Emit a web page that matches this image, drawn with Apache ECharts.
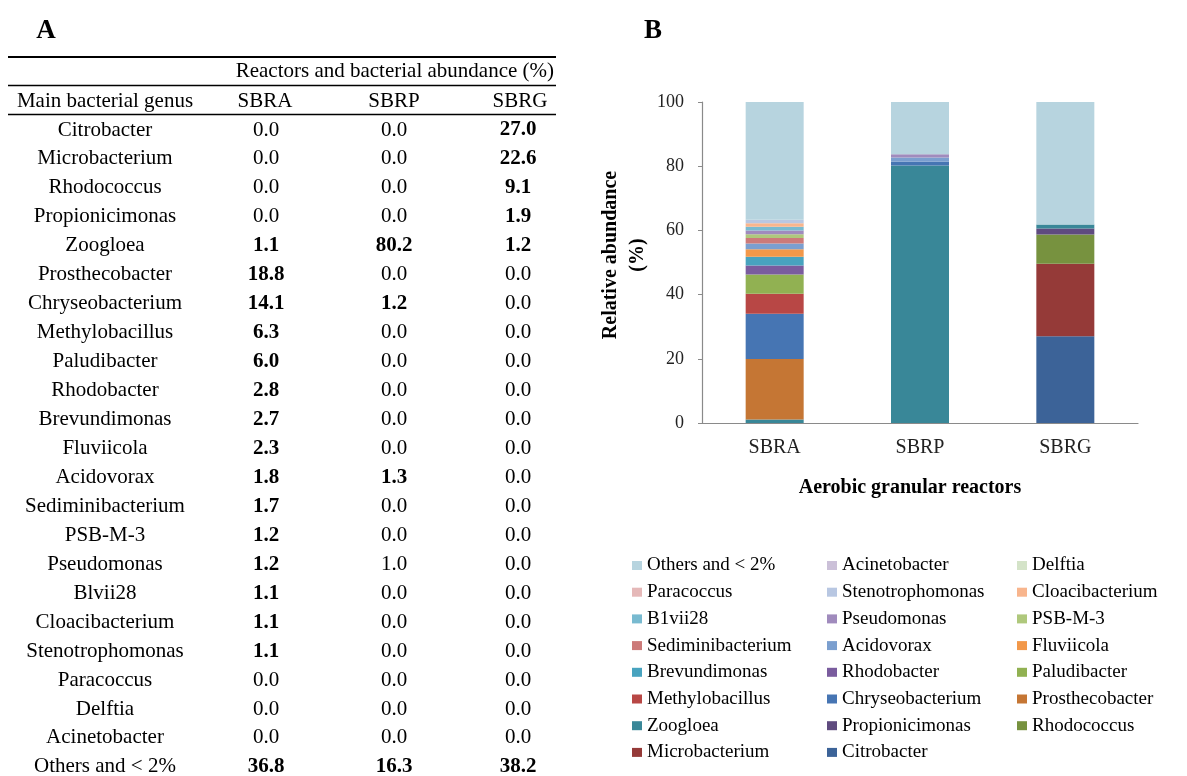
<!DOCTYPE html>
<html>
<head>
<meta charset="utf-8">
<script src="https://cdn.jsdelivr.net/npm/echarts@6/dist/echarts.min.js"></script>
<style>
html,body{margin:0;padding:0;background:#fff;}
#chart{width:1187px;height:776px;}
</style>
</head>
<body>
<div id="chart"></div>
<script>
// ---------- data ----------
const genera = ['Citrobacter','Microbacterium','Rhodococcus','Propionicimonas','Zoogloea','Prosthecobacter','Chryseobacterium','Methylobacillus','Paludibacter','Rhodobacter','Brevundimonas','Fluviicola','Acidovorax','Sediminibacterium','PSB-M-3','Pseudomonas','Blvii28','Cloacibacterium','Stenotrophomonas','Paracoccus','Delftia','Acinetobacter','Others and < 2%'];
const legendNames = ['Citrobacter','Microbacterium','Rhodococcus','Propionicimonas','Zoogloea','Prosthecobacter','Chryseobacterium','Methylobacillus','Paludibacter','Rhodobacter','Brevundimonas','Fluviicola','Acidovorax','Sediminibacterium','PSB-M-3','Pseudomonas','B1vii28','Cloacibacterium','Stenotrophomonas','Paracoccus','Delftia','Acinetobacter','Others and < 2%'];
const sbra = [0.0,0.0,0.0,0.0,1.1,18.8,14.1,6.3,6.0,2.8,2.7,2.3,1.8,1.7,1.2,1.2,1.1,1.1,1.1,0.0,0.0,0.0,36.8];
const sbrp = [0.0,0.0,0.0,0.0,80.2,0.0,1.2,0.0,0.0,0.0,0.0,0.0,1.3,0.0,0.0,1.0,0.0,0.0,0.0,0.0,0.0,0.0,16.3];
const sbrg = [27.0,22.6,9.1,1.9,1.2,0.0,0.0,0.0,0.0,0.0,0.0,0.0,0.0,0.0,0.0,0.0,0.0,0.0,0.0,0.0,0.0,0.0,38.2];
const reactors = ['SBRA','SBRP','SBRG'];
const tableTitle = 'Reactors and bacterial abundance (%)';
const genusHeader = 'Main bacterial genus';
const colors = ['#3c6398','#953a38','#77923f','#5f4b7f','#398798','#c57634','#4675b3','#b84745','#91b152','#7a5c9e','#48a3bf','#f2984a','#7b9fcf','#cc7a79','#afc87c','#a08bbd','#78bad0','#f8b58d','#b8c7e2','#e5b8b8','#d4e3c8','#cbc0d8','#b7d4df'];

// ---------- layout ----------
const FONT = "'Liberation Serif','Times New Roman',serif";
const chart = echarts.init(document.getElementById('chart'), null, {renderer:'canvas'});

const graphics = [];
function txt(x, y, s, size, bold, align) {
  graphics.push({type:'text', x:x, y:y, silent:true, style:{text:s, fill:'#000', fontSize:size, fontFamily:FONT, fontWeight: bold ? 'bold' : 'normal', align: align || 'center', verticalAlign:'middle'}});
}
function hline(x1, x2, y, w) {
  graphics.push({type:'line', silent:true, shape:{x1:x1, y1:y, x2:x2, y2:y}, style:{stroke:'#000', lineWidth:w}});
}
// panel letters
txt(46, 31, 'A', 27, true);
txt(653, 31, 'B', 27, true);
// table
const TL = 8, TR = 556;
hline(TL, TR, 57, 2);
hline(TL, TR, 85.5, 1.3);
hline(TL, TR, 114.5, 1.3);
txt(554, 71, tableTitle, 21, false, 'right');
const colX = [265, 394, 520];
const valX = [266, 394, 518];
txt(105, 101, genusHeader, 21, false);
reactors.forEach((r, i) => txt(colX[i], 101, r, 21, false));
const rowY0 = 130, rowH = 28.95;
const cols = [sbra, sbrp, sbrg];
genera.forEach((g, i) => {
  const y = rowY0 + i * rowH;
  txt(105, y, g, 21, false);
  cols.forEach((arr, c) => txt(valX[c], y, arr[i].toFixed(1), 21, arr[i] > 1.0));
});
// axis titles of chart B
graphics.push({type:'text', x:624, y:255, rotation:Math.PI/2, silent:true, style:{text:'Relative abundance\n(%)', fill:'#000', fontSize:20, fontFamily:FONT, fontWeight:'bold', align:'center', verticalAlign:'middle', lineHeight:27}});
txt(910, 488, 'Aerobic granular reactors', 20, true);

// ---------- series ----------
const series = genera.map((g, i) => ({
  name: legendNames[i],
  type: 'bar',
  stack: 'total',
  barWidth: 58,
  itemStyle: {color: colors[i]},
  emphasis: {disabled: true},
  data: [sbra[i], sbrp[i], sbrg[i]]
}));

// legends: Excel style reversed order, 3 columns, row-major
const rev = legendNames.slice().reverse();
const legendLeft = [627, 822, 1012];
const legends = legendLeft.map((lx, k) => ({
  orient: 'vertical',
  left: lx,
  top: 551,
  itemWidth: 10,
  itemHeight: 9,
  itemGap: 7.7,
  selectedMode: false,
  icon: 'rect',
  textStyle: {fontFamily: FONT, fontSize: 19, color: '#000', lineHeight: 19},
  data: rev.filter((_, i) => i % 3 === k)
}));

chart.setOption({
  animation: false,
  backgroundColor: '#fff',
  color: colors,
  grid: {left: 702, top: 102, width: 436, height: 321, containLabel: false},
  legend: legends,
  xAxis: {
    type: 'category',
    data: reactors,
    axisLine: {lineStyle: {color: '#8a8a8a', width: 1.2}},
    axisTick: {show: false},
    axisLabel: {fontFamily: FONT, fontSize: 20, color: '#222', margin: 15}
  },
  yAxis: {
    type: 'value',
    min: 0, max: 100, interval: 20,
    axisLine: {show: true, lineStyle: {color: '#8a8a8a', width: 1.2}},
    axisTick: {show: true, length: 4, lineStyle: {color: '#8a8a8a'}},
    splitLine: {show: false},
    axisLabel: {fontFamily: FONT, fontSize: 18, color: '#222', margin: 18}
  },
  series: series,
  graphic: graphics
});
</script>
</body>
</html>
